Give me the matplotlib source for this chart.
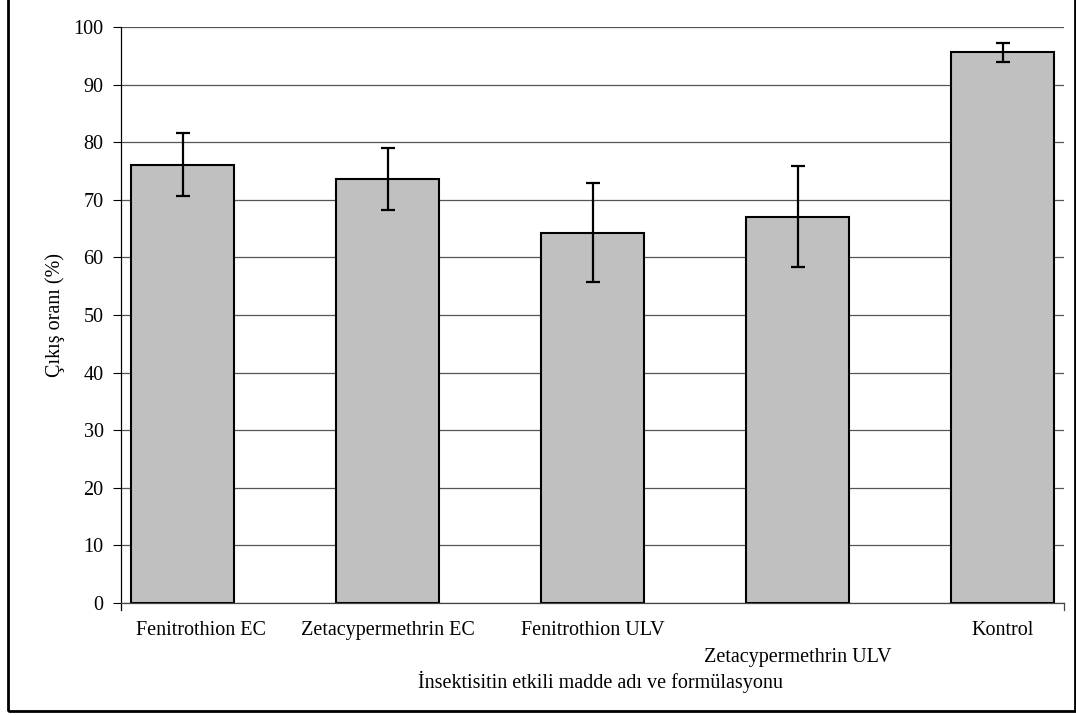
import matplotlib
matplotlib.use("Agg")
import matplotlib.pyplot as plt
import matplotlib.transforms as mtransforms
from matplotlib.patches import Rectangle
import numpy as np

plt.rcParams['font.family'] = ['Liberation Serif', 'DejaVu Serif']

# data
categories = ["Fenitrothion EC", "Zetacypermethrin EC", "Fenitrothion ULV",
              "Zetacypermethrin ULV", "Kontrol"]
values = [76.1, 73.6, 64.3, 67.1, 95.6]
errors = [5.5, 5.45, 8.6, 8.7, 1.7]
yticks = [0, 10, 20, 30, 40, 50, 60, 70, 80, 90, 100]

fig = plt.figure(figsize=(10.76, 7.15), dpi=100)
ax = fig.add_axes([121/1076, 1 - 603/715, (1064 - 121)/1076, (603 - 27)/715])

x = np.arange(len(categories))
ax.bar(x, values, width=0.5, color="#c0c0c0", edgecolor="black", linewidth=1.5, zorder=2)
ax.errorbar(x, values, yerr=errors, fmt="none", ecolor="black", elinewidth=1.6,
            capsize=5, capthick=1.6, zorder=3)

ax.set_xlim(-0.3, 4.3)
ax.set_ylim(0, 100)
ax.set_yticks(yticks)
ax.yaxis.grid(True, color="#555555", linewidth=0.9, zorder=0)
ax.set_axisbelow(True)

for s in ["top", "right"]:
    ax.spines[s].set_visible(False)
ax.spines["left"].set_color("black")
ax.spines["left"].set_linewidth(0.9)
ax.spines["left"].set_bounds(-1.2, 100)
ax.spines["bottom"].set_color("#444444")
ax.spines["bottom"].set_linewidth(0.9)

ax.tick_params(axis="y", direction="out", length=6, width=0.8, pad=6.5, labelsize=14.5)

# staggered category labels like the original
labels = list(categories)
labels[3] = "\n" + labels[3]
ax.set_xticks(x)
ax.set_xticklabels(labels, fontsize=14.5)
ax.tick_params(axis="x", length=0, pad=13)
ticklabels = ax.xaxis.get_majorticklabels()
ticklabels[0].set_transform(ticklabels[0].get_transform()
                            + mtransforms.ScaledTranslation(19/100, 0, fig.dpi_scale_trans))
ticklabels[3].set_linespacing(1.6)

# small end tick at the right of the category axis
ax.plot([4.3, 4.3], [0, -1.2], color="#444444", linewidth=0.9, clip_on=False)

ax.set_ylabel("Çıkış oranı (%)", fontsize=14.5)
ax.yaxis.set_label_coords((55 - 121)/943, 0.5)
ax.yaxis.label.set_va("center")
ax.set_xlabel("İnsektisitin etkili madde adı ve formülasyonu", fontsize=14.5)
ax.xaxis.set_label_coords((601 - 121)/943, (603 - 682)/576)
ax.xaxis.label.set_va("center")

# outer frame
fig.patches.append(Rectangle((8/1076, 4/715), (1075 - 8)/1076, 1.0, transform=fig.transFigure,
                             fill=False, edgecolor="black", linewidth=2, clip_on=False))

fig.savefig("out.png", dpi=100)
